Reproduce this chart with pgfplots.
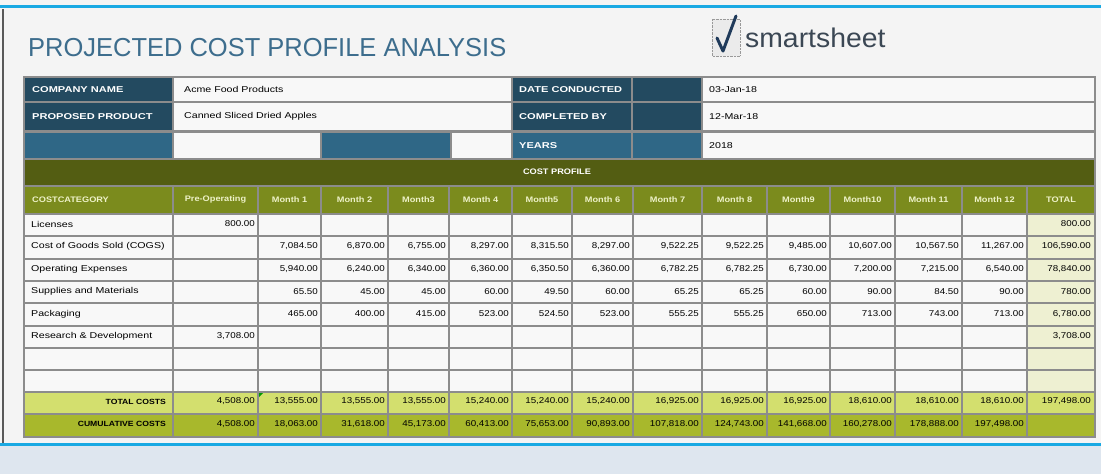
\documentclass[border=0pt]{standalone}
\usepackage{fontspec}
\setmainfont{Liberation Sans}
\newfontfamily\tf[FakeStretch=1.15]{Liberation Sans}
\newfontfamily\lf[FakeStretch=1.3]{Liberation Sans}
\newfontfamily\vf[FakeStretch=1.25]{Liberation Sans}
\newfontfamily\ttl[FakeStretch=0.98]{Liberation Sans}
\newfontfamily\lgf[FakeStretch=1.05]{Liberation Sans}
\usepackage{pgfplots}
\usepackage{pgfplotstable}
\pgfplotsset{compat=1.18}

\definecolor{gridc}{HTML}{8C8C8C}
\definecolor{navy}{HTML}{234A60}
\definecolor{steel}{HTML}{2F6786}
\definecolor{oliveD}{HTML}{535D12}
\definecolor{oliveH}{HTML}{7B8B1D}
\definecolor{hdrtxt}{HTML}{EEF2C8}
\definecolor{cellw}{HTML}{F8F8F8}
\definecolor{totcol}{HTML}{EEF0D2}
\definecolor{totrow}{HTML}{D3DF6E}
\definecolor{cumrow}{HTML}{A8B82C}
\definecolor{bgpanel}{HTML}{F4F4F4}
\definecolor{cyanl}{HTML}{19A9E3}
\definecolor{bgbottom}{HTML}{DEE6EF}
\definecolor{titlec}{HTML}{3D6D8D}
\definecolor{logoc}{HTML}{3B4754}
\definecolor{checkc}{HTML}{1F3A5A}

% x = right edge of cell text (px), y = row centre (px), v = value
\pgfplotstableread{
x y v
255 224 800
1091 224 800
}\rowLic
\pgfplotstableread{
x y v
318 246.5 7084.50
385 246.5 6870.00
446 246.5 6755.00
509 246.5 8297.00
569 246.5 8315.50
630 246.5 8297.00
699 246.5 9522.25
764 246.5 9522.25
827 246.5 9485.00
892 246.5 10607.00
959 246.5 10567.50
1024 246.5 11267.00
1091 246.5 106590.00
}\rowCogs
\pgfplotstableread{
x y v
318 269.5 5940.00
385 269.5 6240.00
446 269.5 6340.00
509 269.5 6360.00
569 269.5 6350.50
630 269.5 6360.00
699 269.5 6782.25
764 269.5 6782.25
827 269.5 6730.00
892 269.5 7200.00
959 269.5 7215.00
1024 269.5 6540.00
1091 269.5 78840.00
}\rowOpex
\pgfplotstableread{
x y v
318 291.5 65.50
385 291.5 45.00
446 291.5 45.00
509 291.5 60.00
569 291.5 49.50
630 291.5 60.00
699 291.5 65.25
764 291.5 65.25
827 291.5 60.00
892 291.5 90.00
959 291.5 84.50
1024 291.5 90.00
1091 291.5 780.00
}\rowSup
\pgfplotstableread{
x y v
318 314 465.00
385 314 400.00
446 314 415.00
509 314 523.00
569 314 524.50
630 314 523.00
699 314 555.25
764 314 555.25
827 314 650.00
892 314 713.00
959 314 743.00
1024 314 713.00
1091 314 6780.00
}\rowPack
\pgfplotstableread{
x y v
255 336 3708.00
1091 336 3708.00
}\rowRD
\pgfplotstableread{
x y v
255 401.5 4508.00
318 401.5 13555.00
385 401.5 13555.00
446 401.5 13555.00
509 401.5 15240.00
569 401.5 15240.00
630 401.5 15240.00
699 401.5 16925.00
764 401.5 16925.00
827 401.5 16925.00
892 401.5 18610.00
959 401.5 18610.00
1024 401.5 18610.00
1091 401.5 197498.00
}\rowTot
\pgfplotstableread{
x y v
255 424 4508.00
318 424 18063.00
385 424 31618.00
446 424 45173.00
509 424 60413.00
569 424 75653.00
630 424 90893.00
699 424 107818.00
764 424 124743.00
827 424 141668.00
892 424 160278.00
959 424 178888.00
1024 424 197498.00
}\rowCum

\pgfplotsset{numcell/.style={draw=none, mark=none, nodes near coords,
  point meta=explicit,
  nodes near coords style={anchor=east, inner sep=0pt,
    font=\tf\fontsize{8.5}{10}\selectfont, text=black}}}

\newcommand{\cbox}[5]{\fill[#5] (axis cs:#1,#3) rectangle (axis cs:#2,#4);}
\newcommand{\lbl}[3]{\node[anchor=west, inner sep=0pt, text=white, font=\lf\bfseries\fontsize{8.5}{9}\selectfont] at (axis cs:#1,#2) {#3};}
\newcommand{\val}[3]{\node[anchor=west, inner sep=0pt, text=black, font=\vf\fontsize{8.5}{10}\selectfont] at (axis cs:#1,#2) {#3};}
\newcommand{\hdr}[3]{\node[anchor=center, inner sep=0pt, text=hdrtxt, font=\tf\bfseries\fontsize{8}{9}\selectfont] at (axis cs:#1,#2) {#3};}

\begin{document}
\begin{tikzpicture}
\begin{axis}[
  width=1101pt, height=474pt, scale only axis,
  xmin=0, xmax=1101, ymin=0, ymax=474, y dir=reverse,
  enlargelimits=false, hide axis, clip=false,
  /pgf/number format/fixed, /pgf/number format/fixed zerofill,
  /pgf/number format/precision=2, /pgf/number format/1000 sep={,},
  /pgf/number format/assume math mode=true,
]
% background
\cbox{0}{1101}{0}{474}{bgpanel}
\cbox{0}{1101}{5}{8}{cyanl}
\cbox{2}{4}{9}{443}{black!65}
\cbox{0}{1101}{443}{446}{cyanl}
\cbox{0}{1101}{446}{474}{bgbottom}

% title and logo
\node[anchor=base west, inner sep=0pt, text=titlec, font=\ttl\fontsize{26}{28}\selectfont] at (axis cs:28,56) {PROJECTED COST PROFILE ANALYSIS};
\fill[black!8] (axis cs:712,19) rectangle (axis cs:740,56);
\draw[black!40, densely dotted] (axis cs:712,19) rectangle (axis cs:740,56);
\draw[checkc, line width=3pt, line cap=round, line join=round] (axis cs:717,38) -- (axis cs:723,51) -- (axis cs:736,16);
\node[anchor=base west, inner sep=0pt, text=logoc, font=\lgf\fontsize{27}{29}\selectfont] at (axis cs:745,47) {smartsheet};

% table frame
\cbox{23}{1096}{76}{438}{gridc}
% top info rows
\cbox{25}{172}{78}{101}{navy}\cbox{174}{511}{78}{101}{cellw}\cbox{513}{631}{78}{101}{navy}\cbox{633}{701}{78}{101}{navy}\cbox{703}{1094}{78}{101}{cellw}
\cbox{25}{172}{103}{130}{navy}\cbox{174}{511}{103}{130}{cellw}\cbox{513}{631}{103}{130}{navy}\cbox{633}{701}{103}{130}{navy}\cbox{703}{1094}{103}{130}{cellw}
\cbox{25}{172}{133}{158}{steel}\cbox{174}{320}{133}{158}{cellw}\cbox{322}{450}{133}{158}{steel}\cbox{452}{511}{133}{158}{cellw}\cbox{513}{631}{133}{158}{steel}\cbox{633}{701}{133}{158}{steel}\cbox{703}{1094}{133}{158}{cellw}
\lbl{32}{89.5}{COMPANY NAME}
\lbl{32}{116.5}{PROPOSED PRODUCT}
\lbl{519}{89.5}{DATE CONDUCTED}
\lbl{519}{116.5}{COMPLETED BY}
\lbl{519}{145.5}{YEARS}
\val{184}{89.5}{Acme Food Products}
\val{184}{116.5}{Canned Sliced Dried Apples}
\val{709}{89.5}{03-Jan-18}
\val{709}{116.5}{12-Mar-18}
\val{709}{145.5}{2018}

% cost profile band and header
\cbox{25}{1094}{160}{185}{oliveD}
\node[inner sep=0pt, text=white, font=\tf\bfseries\fontsize{8}{9}\selectfont] at (axis cs:557,172) {COST PROFILE};
\cbox{25}{1094}{187}{213}{oliveH}
\cbox{25}{1094}{215}{391}{cellw}
\cbox{1028}{1094}{215}{391}{totcol}
\cbox{25}{1094}{393}{413}{totrow}
\cbox{25}{1094}{415}{436}{cumrow}

% grid lines
\foreach \gx in {173,258,321,388,449,512,572,633,702,767,830,895,962,1027}{
  \edef\tmp{\noexpand\draw[gridc, line width=2pt] (axis cs:\gx,187) -- (axis cs:\gx,436);}\tmp}
\foreach \gy in {214,236,259,281,303,326,348,369.5,392,414}{
  \edef\tmp{\noexpand\draw[gridc, line width=2pt] (axis cs:25,\gy) -- (axis cs:1094,\gy);}\tmp}
\fill[green!60!black] (axis cs:259,393) -- (axis cs:263,393) -- (axis cs:259,397) -- cycle;

% header labels
\node[anchor=west, inner sep=0pt, text=hdrtxt, font=\tf\bfseries\fontsize{8}{9}\selectfont] at (axis cs:32,199.5) {COSTCATEGORY};
\hdr{215.5}{199.5}{Pre-Operating}
\hdr{289.5}{199.5}{Month 1}
\hdr{354.5}{199.5}{Month 2}
\hdr{418.5}{199.5}{Month3}
\hdr{480.5}{199.5}{Month 4}
\hdr{542}{199.5}{Month5}
\hdr{602.5}{199.5}{Month 6}
\hdr{667.5}{199.5}{Month 7}
\hdr{734.5}{199.5}{Month 8}
\hdr{798.5}{199.5}{Month9}
\hdr{862.5}{199.5}{Month10}
\hdr{928.5}{199.5}{Month 11}
\hdr{994.5}{199.5}{Month 12}
\hdr{1061}{199.5}{TOTAL}

% row labels
\val{31}{224}{Licenses}
\val{31}{246.5}{Cost of Goods Sold (COGS)}
\val{31}{269.5}{Operating Expenses}
\val{31}{291.5}{Supplies and Materials}
\val{31}{314}{Packaging}
\val{31}{336}{Research \& Development}
\node[anchor=east, inner sep=0pt, text=black, font=\tf\bfseries\fontsize{7.5}{9}\selectfont] at (axis cs:166,401.5) {TOTAL COSTS};
\node[anchor=east, inner sep=0pt, text=black, font=\tf\bfseries\fontsize{7.5}{9}\selectfont] at (axis cs:166,424) {CUMULATIVE COSTS};

% values
\addplot[numcell] table[x=x, y=y, meta=v] {\rowLic};
\addplot[numcell] table[x=x, y=y, meta=v] {\rowCogs};
\addplot[numcell] table[x=x, y=y, meta=v] {\rowOpex};
\addplot[numcell] table[x=x, y=y, meta=v] {\rowSup};
\addplot[numcell] table[x=x, y=y, meta=v] {\rowPack};
\addplot[numcell] table[x=x, y=y, meta=v] {\rowRD};
\addplot[numcell] table[x=x, y=y, meta=v] {\rowTot};
\addplot[numcell] table[x=x, y=y, meta=v] {\rowCum};
\end{axis}
\end{tikzpicture}
\end{document}
